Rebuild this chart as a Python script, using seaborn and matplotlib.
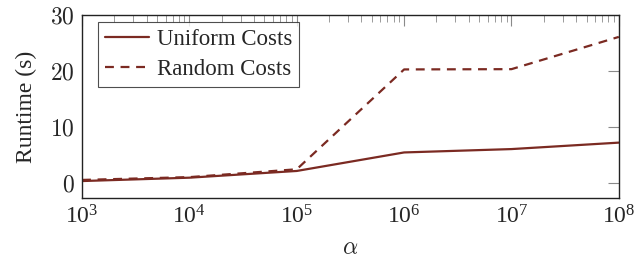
import pandas as pd
import matplotlib
matplotlib.use("Agg")
import matplotlib.pyplot as plt
import matplotlib.ticker as mticker
import seaborn as sns

# data
alpha = [1e3, 1e4, 1e5, 1e6, 1e7, 1e8]
uniform_costs = [0.4, 1.0, 2.2, 5.5, 6.1, 7.25]
random_costs = [0.6, 1.1, 2.5, 20.3, 20.35, 26.1]
y_ticks = [0, 10, 20, 30]

LINE_COLOR = "#7b2a22"
FS = 17

sns.set_theme(style="white")
plt.rcParams["font.family"] = ["Liberation Serif", "DejaVu Serif"]
plt.rcParams["mathtext.fontset"] = "cm"
plt.rcParams["font.size"] = FS

df = pd.DataFrame({
    "alpha": alpha * 2,
    "runtime": uniform_costs + random_costs,
    "series": ["Uniform Costs"] * len(alpha) + ["Random Costs"] * len(alpha),
})

fig, ax = plt.subplots(figsize=(6.36, 2.59), dpi=100)
fig.subplots_adjust(left=0.129, right=0.973, top=0.942, bottom=0.236)

sns.lineplot(data=df, x="alpha", y="runtime", style="series",
             dashes={"Uniform Costs": "", "Random Costs": (4, 3)},
             color=LINE_COLOR, linewidth=1.6, ax=ax)

ax.set_xscale("log")
ax.set_xlim(1e3, 1e8)
ax.set_ylim(-2.6, 30)
ax.set_yticks(y_ticks)
ax.yaxis.set_major_formatter(mticker.FuncFormatter(lambda v, p: r"$%d$" % v))
ax.xaxis.set_major_locator(mticker.LogLocator(base=10, numticks=10))
ax.xaxis.set_minor_locator(mticker.LogLocator(base=10, subs=range(2, 10), numticks=20))
ax.xaxis.set_minor_formatter(mticker.NullFormatter())

ax.tick_params(axis="both", which="both", direction="in", top=True, right=True,
               color="#8a8a8a", labelsize=FS, pad=5)
ax.tick_params(which="major", length=8, width=0.8)
ax.tick_params(which="minor", length=5, width=0.6)
for s in ax.spines.values():
    s.set_color("#222222")
    s.set_linewidth(1.0)

ax.set_xlabel(r"$\alpha$", fontsize=FS, labelpad=7)
ax.set_ylabel("Runtime (s)", fontsize=FS, labelpad=10)

leg = ax.legend(loc="upper left", bbox_to_anchor=(0.03, 0.962), borderaxespad=0,
                frameon=True, fancybox=False, edgecolor="#222222", fontsize=16.5,
                handlelength=1.9, handletextpad=0.35, borderpad=0.3,
                labelspacing=0.38)
leg.get_frame().set_linewidth(0.8)
for h in leg.get_lines():
    h.set_color(LINE_COLOR)
    h.set_linewidth(1.6)

plt.savefig("out.png", dpi=100)
plt.close()
